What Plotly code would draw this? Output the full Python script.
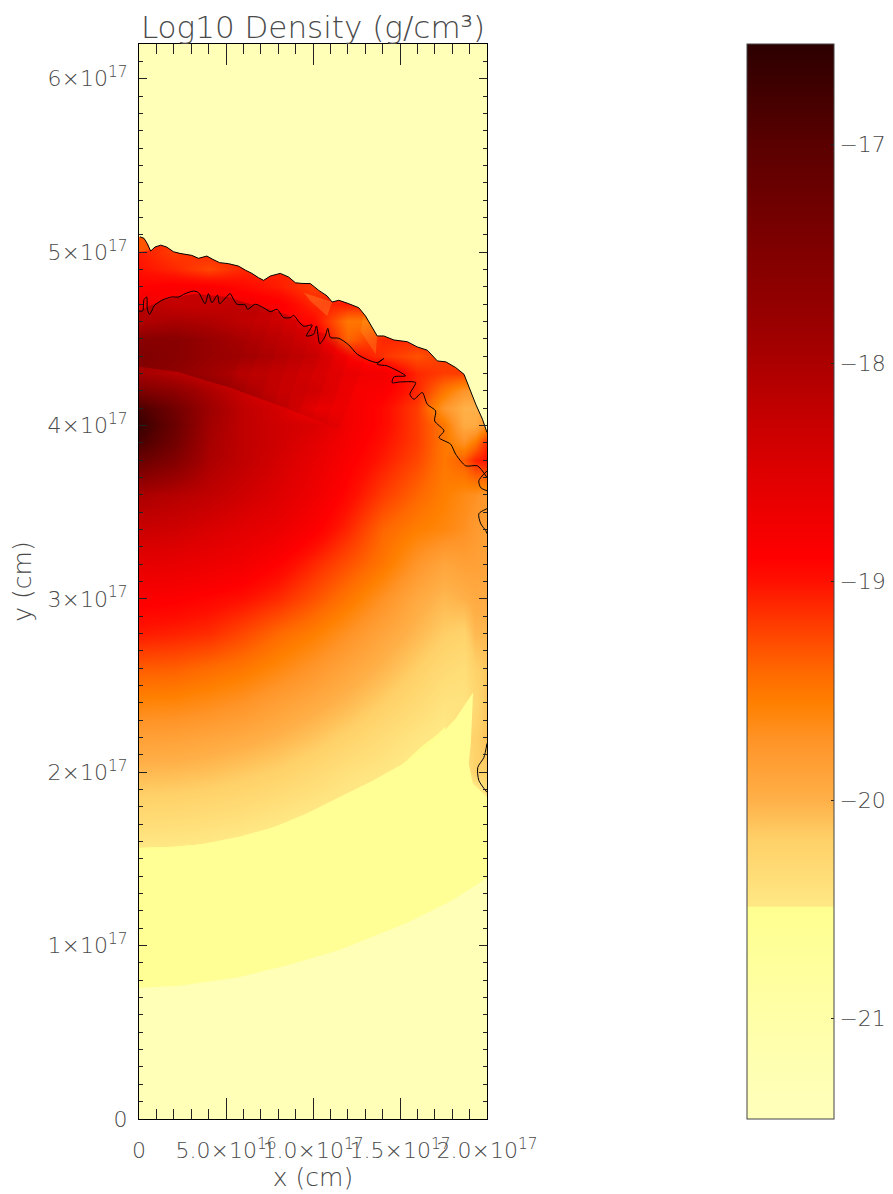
import plotly.graph_objects as go

UNIT = 1e17
grid_x = [0, .2, .4, .6, .8, 1.0, 1.2, 1.4, 1.6, 1.75, 1.87, 1.93, 2.0]
grid_y = [0, .4, .8, 1.0, 1.2, 1.4, 1.6, 1.8, 2.0, 2.2, 2.4, 2.6, 2.8, 3.0, 3.2, 3.4, 3.6, 3.8, 3.9, 4.0,
          4.1, 4.2, 4.3, 4.4, 4.5, 4.6, 4.7, 4.8, 4.9, 5.0, 5.1, 6.2]
log_density = [
 [-21.0]*13,
 [-21.0]*13,
 [-21.0]*13,
 [-21.0]*13,
 [-21.0]*13,
 [-20.7,-20.7,-20.75,-20.8,-20.85,-20.9,-20.95,-21.0,-21.0,-21.0,-21.0,-21.0,-21.0],
 [-20.45,-20.46,-20.48,-20.52,-20.58,-20.65,-20.75,-20.85,-20.95,-21.0,-21.0,-21.0,-21.0],
 [-20.25,-20.26,-20.29,-20.33,-20.39,-20.46,-20.52,-20.6,-20.72,-20.8,-20.88,-20.9,-20.55],
 [-20.05,-20.06,-20.09,-20.14,-20.2,-20.29,-20.4,-20.46,-20.56,-20.66,-20.5,-20.2,-20.18],
 [-19.85,-19.86,-19.9,-19.95,-20.02,-20.11,-20.22,-20.34,-20.45,-20.52,-20.3,-20.2,-20.1],
 [-19.6,-19.61,-19.66,-19.73,-19.84,-19.94,-20.05,-20.18,-20.31,-20.42,-20.42,-20.3,-20.12],
 [-19.35,-19.36,-19.43,-19.5,-19.62,-19.75,-19.9,-20.03,-20.18,-20.3,-20.35,-20.2,-20.12],
 [-19.05,-19.08,-19.13,-19.26,-19.42,-19.55,-19.72,-19.9,-20.05,-20.17,-20.22,-20.05,-20.05],
 [-18.85,-18.87,-18.93,-19.0,-19.12,-19.3,-19.5,-19.72,-19.94,-20.05,-20.0,-19.95,-19.95],
 [-18.6,-18.62,-18.68,-18.75,-18.9,-19.1,-19.3,-19.5,-19.75,-19.9,-19.85,-19.85,-19.88],
 [-18.3,-18.35,-18.45,-18.55,-18.65,-18.85,-19.1,-19.4,-19.55,-19.62,-19.7,-19.78,-19.85],
 [-18.0,-18.1,-18.2,-18.35,-18.5,-18.7,-18.95,-19.2,-19.4,-19.55,-19.65,-19.7,-19.78],
 [-17.2,-17.5,-18.0,-18.2,-18.4,-18.6,-18.85,-19.05,-19.25,-19.5,-19.35,-19.1,-19.0],
 [-16.85,-17.3,-17.95,-18.2,-18.35,-18.55,-18.8,-19.0,-19.2,-19.5,-19.7,-19.5,-19.1],
 [-16.65,-17.2,-17.9,-18.2,-18.35,-18.45,-18.75,-18.95,-19.2,-19.5,-19.95,-19.95,-19.7],
 [-16.85,-17.3,-17.85,-18.2,-18.4,-18.82,-18.75,-18.95,-19.2,-19.75,-20.0,-20.0,-20.0],
 [-17.45,-17.65,-18.0,-18.3,-18.62,-18.55,-18.78,-18.85,-19.1,-19.5,-19.75,-19.8,-19.8],
 [-17.95,-18.1,-18.3,-18.6,-18.6,-18.65,-18.72,-18.75,-19.1,-19.2,-19.2,-19.2,-19.2],
 [-17.89,-18.0,-18.2,-18.3,-18.4,-18.5,-18.95,-19.15,-19.3,-19.2,-19.2,-19.2,-19.2],
 [-18.0,-18.0,-18.2,-18.45,-18.55,-18.75,-19.4,-19.1,-19.1,-19.1,-19.1,-19.1,-19.1],
 [-18.6,-18.45,-18.55,-18.8,-18.85,-18.95,-19.5,-19.5,-19.5,-19.5,-19.5,-19.5,-19.5],
 [-18.65,-18.9,-18.95,-18.75,-18.85,-19.1,-19.05,-19.05,-19.05,-19.05,-19.05,-19.05,-19.05],
 [-18.9,-18.85,-18.85,-18.95,-19.05,-19.2,-19.2,-19.2,-19.2,-19.2,-19.2,-19.2,-19.2],
 [-19.0,-19.1,-19.25,-19.1,-19.1,-19.1,-19.1,-19.1,-19.1,-19.1,-19.1,-19.1,-19.1],
 [-19.05,-19.2,-19.1,-19.1,-19.1,-19.1,-19.1,-19.1,-19.1,-19.1,-19.1,-19.1,-19.1],
 [-19.1]*13,
 [-19.1]*13,
]

front_x = [.006,.029,.048,.067,.092,.125,.159,.198,.236,.265,.303,.342,.390,.424,.463,.515,.572,.611,.649,.687,.716,
           .755,.812,.860,.899,.937,.985,1.033,1.081,1.110,1.148,1.206,1.263,1.302,1.340,1.369,1.407,1.465,1.542,
           1.599,1.657,1.715,1.763,1.820,1.868,1.897,1.935,1.974,2.0]
front_y = [5.088,5.079,5.048,5.006,5.029,5.040,5.029,5.002,4.992,4.987,4.981,4.964,4.977,4.958,4.939,4.933,4.919,4.896,
           4.877,4.852,4.837,4.862,4.877,4.856,4.823,4.819,4.818,4.779,4.747,4.712,4.722,4.702,4.679,4.631,4.564,4.516,
           4.516,4.493,4.483,4.453,4.434,4.372,4.367,4.334,4.295,4.219,4.123,4.036,3.959]
contact_x = [0,.021,.029,.044,.048,.060,.073,.086,.131,.188,.227,.265,.313,.342,.380,.399,.419,.451,.463,.524,.543,.563,
             .611,.624,.668,.716,.755,.793,.831,.870,.889,.918,.947,.995,.962,1.004,1.020,1.039,1.071,1.085,1.100,1.148,
             1.206,1.254,1.331,1.369,1.407,1.369,1.427,1.532,1.465,1.455,1.503,1.590,1.557,1.580,1.628,1.657,1.705,1.699,
             1.753,1.724,1.791,1.820,1.878,1.945,2.0,None,
             2.0,1.953,1.964,2.0,None,
             2.0,1.953,1.964,1.993,2.0,None,
             2.0,1.982,1.947,1.953,2.0]
contact_y = [4.660,4.660,4.727,4.741,4.670,4.641,4.660,4.689,4.722,4.741,4.741,4.760,4.775,4.766,4.702,4.760,4.708,4.752,
             4.702,4.760,4.727,4.699,4.695,4.670,4.699,4.679,4.656,4.670,4.622,4.622,4.635,4.599,4.572,4.579,4.516,4.526,
             4.574,4.472,4.516,4.560,4.507,4.503,4.464,4.411,4.372,4.363,4.386,4.353,4.343,4.286,4.280,4.247,4.251,4.247,
             4.180,4.151,4.190,4.122,4.084,4.026,3.969,3.930,3.892,3.834,3.767,3.767,3.700,None,
             3.738,3.681,3.641,3.623,None,
             3.52,3.491,3.433,3.393,3.376,None,
             2.166,2.085,2.028,1.953,1.884]
arc_x = [0, .25, .576, .85, 1.15, 1.54, 1.8, 2.0]
arc_y = [.755, .77, .818, .885, .973, 1.13, 1.26, 1.39]
# upper edge of the pale-yellow band, then the left side of the edge blob
band_top_x = [0, .2, .386, .58, .766, .96, 1.15, 1.34, 1.52, 1.69, 1.82, 1.92]
band_top_y = [1.55, 1.56, 1.59, 1.63, 1.68, 1.76, 1.855, 1.95, 2.05, 2.17, 2.31, 2.46]
blob_edge_x = [1.907, 1.895, 1.918, 2.0]
blob_edge_y = [2.166, 2.05, 1.935, 1.855]
# dark shell between the inner arc and the contact surface
shell_arc_x = [0, .22, .3, .4, .52, .6, .7, .78, .85, .92, 1.0, 1.08, 1.15]
shell_arc_y = [4.34, 4.31, 4.285, 4.255, 4.22, 4.19, 4.155, 4.125, 4.10, 4.07, 4.04, 4.005, 3.97]
shell_top_x = [0, .131, .313, .42, .524, .6, .7, .78, .85, .92, 1.0, 1.08, 1.15, 1.22, 1.3]
shell_top_y = [4.66, 4.722, 4.76, 4.75, 4.74, 4.71, 4.685, 4.66, 4.64, 4.6, 4.55, 4.525, 4.50, 4.45, 4.39]
# bright filaments behind the front
streak_1_x = [1.11, 1.081, .985, .947]
streak_1_y = [4.712, 4.631, 4.718, 4.766]
streak_2_x = [1.369, 1.36, 1.273, 1.29]
streak_2_y = [4.516, 4.411, 4.545, 4.631]
cap_x = [0, .06, .03, 0]
cap_y = [5.0, 5.01, 5.08, 5.09]

scale_vals = [-21.46, -21.0, -20.49, -20.486, -20.18, -20.0, -19.73, -19.56, -19.42, -19.19, -19.0, -18.89, -18.5, -18.2, -17.89, -17.0, -16.54]
scale_cols = ['#ffffbc', '#ffffa8', '#ffff90', '#ffe884', '#ffd068', '#ffb048', '#ff9428', '#ff8000', '#ff6a00', '#ff3a00',
              '#ff1000', '#ff0000', '#de0000', '#c00000', '#a00000', '#5a0000', '#2c0000']
ZMIN, ZMAX = scale_vals[0], scale_vals[-1]
colorscale = [[(v - ZMIN) / (ZMAX - ZMIN), c] for v, c in zip(scale_vals, scale_cols)]
AMBIENT = '#ffffb8'
BAND = '#ffff96'
TXT = '#4a4a4a'
FONT = 'DejaVu Sans'
cb_ticks = [-21, -20, -19, -18, -17]
cb_text = ['\u221221', '\u221220', '\u221219', '\u221218', '\u221217']


def scaled(values):
    return [None if v is None else v * UNIT for v in values]


def patch(xs, ys, color, shape='linear'):
    return go.Scatter(x=scaled(xs), y=scaled(ys), mode='lines', fill='toself', fillcolor=color,
                      line=dict(width=0, shape=shape), hoverinfo='skip', showlegend=False)


fig = go.Figure()
fig.add_trace(go.Heatmap(
    x=scaled(grid_x), y=scaled(grid_y), z=log_density,
    zmin=ZMIN, zmax=ZMAX, zsmooth='best', colorscale=colorscale, hoverinfo='skip',
    colorbar=dict(x=(747 - 139) / 348, xanchor='left', xpad=0, y=.5, yanchor='middle', ypad=0, len=1, thickness=87,
                  outlinecolor='#444', outlinewidth=1, ticks='inside', ticklen=3, tickcolor='#222', tickwidth=1,
                  tickmode='array', tickvals=cb_ticks, ticktext=cb_text,
                  tickfont=dict(family=FONT, size=22, color=TXT, weight=200)),
))
for n in range(5, 14):
    fig.add_trace(patch(shell_top_x[:n + 2] + shell_arc_x[:n][::-1], shell_top_y[:n + 2] + shell_arc_y[:n][::-1],
                        'rgba(50,0,0,0.037)'))
fig.add_trace(patch(streak_1_x, streak_1_y, 'rgba(255,170,60,0.3)'))
fig.add_trace(patch(streak_2_x, streak_2_y, 'rgba(255,160,40,0.3)'))
fig.add_trace(patch(cap_x, cap_y, 'rgba(255,110,0,0.7)'))
fig.add_trace(patch(band_top_x + blob_edge_x + [2.0] + arc_x[::-1],
                    band_top_y + blob_edge_y + [arc_y[-1]] + arc_y[::-1], BAND))
fig.add_trace(patch([0] + front_x + [2, 0], [front_y[0]] + front_y + [6.2, 6.2], AMBIENT))
fig.add_trace(patch(arc_x + [2, 0], arc_y + [0, 0], AMBIENT))
fig.add_trace(go.Scatter(x=scaled(front_x), y=scaled(front_y), mode='lines',
                         line=dict(color='black', width=1), hoverinfo='skip', showlegend=False))
fig.add_trace(go.Scatter(x=scaled(contact_x), y=scaled(contact_y), mode='lines',
                         line=dict(color='black', width=1, shape='spline', smoothing=.7), hoverinfo='skip', showlegend=False))

tick_f = dict(family=FONT, size=22, color=TXT, weight=200)
axis_title_f = dict(family=FONT, size=25, color=TXT, weight=200)
fig.update_layout(
    width=893, height=1194, margin=dict(l=131, r=414, t=36, b=83), paper_bgcolor='white', plot_bgcolor='white',
    showlegend=False,
    title=dict(text='Log10 Density (g/cm\u00b3)', x=305 / 893, xanchor='center', y=1 - 30 / 1194, yanchor='bottom',
               font=dict(family=FONT, size=31, color=TXT, weight=200)),
    xaxis=dict(range=[0, 2 * UNIT], tickmode='array', tickvals=scaled([0, .5, 1, 1.5, 2]),
               ticktext=['0', '5.0\u00d710<sup>16</sup>', '1.0\u00d710<sup>17</sup>', '1.5\u00d710<sup>17</sup>', '2.0\u00d710<sup>17</sup>'],
               ticks='inside', ticklen=21, tickcolor='#222', tickwidth=1, mirror='ticks', showline=True, linecolor='black', linewidth=1,
               minor=dict(ticks='inside', ticklen=10, dtick=1e16, tick0=0, tickcolor='#222', tickwidth=1),
               showgrid=False, zeroline=False, tickfont=tick_f, ticklabelstandoff=12, tickangle=0,
               title=dict(text='x (cm)', font=axis_title_f, standoff=6)),
    yaxis=dict(range=[0, 6.2 * UNIT], tickmode='array', tickvals=scaled(range(7)),
               ticktext=['0'] + ['%d\u00d710<sup>17</sup>' % v for v in range(1, 7)],
               ticks='inside', ticklen=8, tickcolor='#222', tickwidth=1, mirror='ticks', showline=True, linecolor='black', linewidth=1,
               minor=dict(ticks='inside', ticklen=4, dtick=1e16, tick0=0, tickcolor='#222', tickwidth=1),
               showgrid=False, zeroline=False, tickfont=tick_f, ticklabelstandoff=6,
               title=dict(text='y (cm)', font=axis_title_f, standoff=10)),
)
fig.write_html('out.html')
